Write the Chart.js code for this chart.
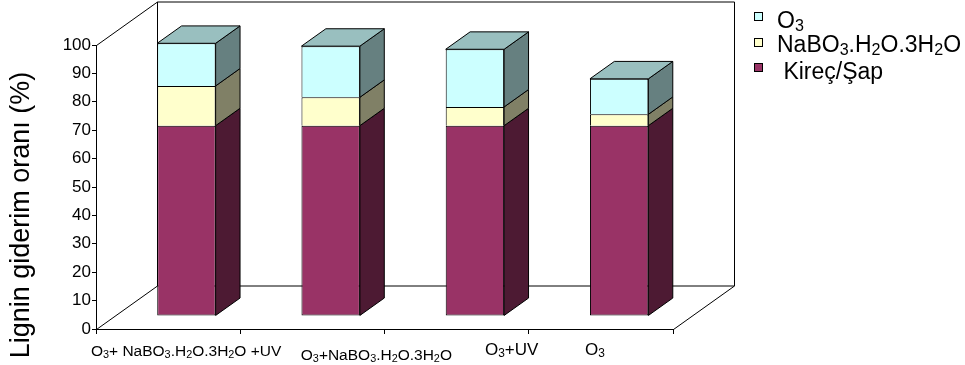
<!DOCTYPE html>
<html>
<head>
<meta charset="utf-8">
<script src="https://cdn.jsdelivr.net/npm/chart.js@4.4.1/dist/chart.umd.min.js"></script>
<style>
  html, body { margin: 0; padding: 0; background: #fff; }
  canvas { display: block; }
</style>
</head>
<body>
<canvas id="chart" width="965" height="365"></canvas>
<script>
// data
const categories = ['O₃+ NaBO₃.H₂O.3H₂O +UV', 'O₃+NaBO₃.H₂O.3H₂O', 'O₃+UV', 'O₃']
const kirecSap = [67, 67, 67, 67]
const perborat = [14, 10, 6.6, 4]
const ozon = [15, 18, 20.3, 12.5]
const seriesNames = ['Kireç/Şap', 'NaBO₃.H₂O.3H₂O', 'O₃']
const yMin = 0
const yMax = 100
const yStep = 10
const yTitle = 'Lignin giderim oranı (%)'

const FONT = '"Liberation Sans", Arial, sans-serif'

// oblique depth of the box, and where the columns sit inside it
const wall = {x: 61, y: -43.5}
const barFront = 0.3
const barDepth = 0.4

// small nudges for the category labels (x shift, baseline, font size)
const labelLayout = [
    {dx: 18, y: 356, size: 15.5},
    {dx: 64, y: 360, size: 15.5},
    {dx: 55, y: 355, size: 17},
    {dx: -6, y: 355, size: 17}
]

// text with subscript digits drawn as smaller, lowered digits
const SUB = '₀₁₂₃₄₅₆₇₈₉'
function pieces(text){
    const out = []
    for (const ch of text){
        const k = SUB.indexOf(ch)
        const sub = k >= 0
        const c = sub ? String(k) : ch
        if (out.length && out[out.length - 1].sub === sub) out[out.length - 1].t += c
        else out.push({t: c, sub})
    }
    return out
}
function richText(ctx, text, x, y, size, align){
    const parts = pieces(text)
    let w = 0
    parts.forEach(p => {
        ctx.font = (p.sub ? size * 0.7 : size) + 'px ' + FONT
        p.w = ctx.measureText(p.t).width
        w += p.w
    })
    let cx = align === 'center' ? x - w / 2 : x
    ctx.textAlign = 'left'
    parts.forEach(p => {
        ctx.font = (p.sub ? size * 0.7 : size) + 'px ' + FONT
        ctx.fillText(p.t, cx, p.sub ? y + size * 0.12 : y)
        cx += p.w
    })
}

function poly(ctx, pts, fill){
    ctx.beginPath()
    ctx.moveTo(pts[0][0], pts[0][1])
    for (let i = 1; i < pts.length; i++) ctx.lineTo(pts[i][0], pts[i][1])
    ctx.closePath()
    ctx.fillStyle = fill
    ctx.fill()
    ctx.stroke()
}

const box3d = {
    id: 'box3d',
    beforeDatasetsDraw(chart){
        const {ctx, chartArea: a} = chart
        const L = Math.round(a.left) + 0.5, R = Math.round(a.right) + 0.5
        const T = Math.round(a.top) + 0.5, B = Math.round(a.bottom) + 0.5
        ctx.save()
        ctx.strokeStyle = '#000'
        ctx.lineWidth = 1
        ctx.beginPath()
        // back wall
        ctx.rect(L + wall.x, T + wall.y, R - L, B - T)
        // side wall and floor edges
        ctx.moveTo(L, T); ctx.lineTo(L + wall.x, T + wall.y)
        ctx.moveTo(L, B); ctx.lineTo(L + wall.x, B + wall.y)
        ctx.moveTo(R, B); ctx.lineTo(R + wall.x, B + wall.y)
        ctx.stroke()
        ctx.restore()
        // push the columns back into the box
        ctx.save()
        ctx.translate(wall.x * barFront, wall.y * barFront)
    },
    afterDatasetsDraw(chart){
        const ctx = chart.ctx
        const ex = wall.x * barDepth, ey = wall.y * barDepth
        const n = chart.data.datasets.length
        ctx.strokeStyle = '#000'
        ctx.lineWidth = 1
        chart.data.datasets.forEach((ds, i) => {
            chart.getDatasetMeta(i).data.forEach(bar => {
                const {x, y, base, width} = bar.getProps(['x', 'y', 'base', 'width'], true)
                const l = x - width / 2, r = x + width / 2
                poly(ctx, [[r, y], [r + ex, y + ey], [r + ex, base + ey], [r, base]], ds.sideColor)
                if (i === n - 1){
                    poly(ctx, [[l, y], [l + ex, y + ey], [r + ex, y + ey], [r, y]], ds.topColor)
                }
            })
        })
        ctx.restore()
    },
    afterDraw(chart){
        const {ctx, scales} = chart
        ctx.save()
        ctx.fillStyle = '#000'
        ctx.textBaseline = 'alphabetic'
        // category labels
        chart.data.labels.forEach((lab, i) => {
            const p = labelLayout[i]
            richText(ctx, lab, scales.x.getPixelForValue(i) + p.dx, p.y, p.size, 'center')
        })
        // value axis title
        ctx.save()
        ctx.translate(22, 215)
        ctx.rotate(-Math.PI / 2)
        ctx.font = '27px ' + FONT
        ctx.textAlign = 'center'
        ctx.textBaseline = 'middle'
        ctx.fillText(yTitle, 0, 0)
        ctx.restore()
        // legend, top series first
        ctx.strokeStyle = '#000'
        ctx.lineWidth = 1
        const rows = chart.data.datasets.slice().reverse()
        const boxTop = [12, 38, 63]
        const baseLine = [28, 52, 79]
        rows.forEach((ds, k) => {
            ctx.fillStyle = ds.backgroundColor
            ctx.fillRect(754, boxTop[k], 8, 8)
            ctx.strokeRect(754.5, boxTop[k] + 0.5, 8, 8)
            ctx.fillStyle = '#000'
            richText(ctx, ds.label, 777, baseLine[k], 23, 'left')
        })
        ctx.restore()
    }
}

// stacked segments share one edge line, so the upper ones skip their bottom border
const edge = {top: 1, left: 1, right: 1, bottom: 0}

const ctx = document.getElementById('chart').getContext('2d')
const myChart = new Chart(ctx, {
    type: 'bar',
    data: {
        labels: categories,
        datasets: [{
            label: ' ' + seriesNames[0],
            data: kirecSap,
            backgroundColor: '#993366',
            sideColor: '#4d1a33',
            topColor: '#732650',
            borderWidth: 1
        }, {
            label: seriesNames[1],
            data: perborat,
            backgroundColor: '#ffffcc',
            sideColor: '#808066',
            topColor: '#bfbf99',
            borderWidth: edge
        }, {
            label: seriesNames[2],
            data: ozon,
            backgroundColor: '#ccffff',
            sideColor: '#668080',
            topColor: '#99bfbf',
            borderWidth: edge
        }].map(ds => Object.assign(ds, {
            borderColor: '#000',
            borderSkipped: false,
            categoryPercentage: 1,
            barPercentage: 0.405,
            clip: false
        }))
    },
    options: {
        responsive: false,
        animation: false,
        layout: {padding: {left: 0, top: 45, right: 292, bottom: 0}},
        plugins: {
            legend: {display: false},
            tooltip: {enabled: false}
        },
        scales: {
            x: {
                stacked: true,
                ticks: {display: false},
                grid: {drawOnChartArea: false, tickLength: 5, color: '#000', offset: true},
                border: {color: '#000'},
                afterFit(s){ s.height = 36 }
            },
            y: {
                stacked: true,
                min: yMin,
                max: yMax,
                ticks: {
                    stepSize: yStep,
                    color: '#000',
                    padding: 1,
                    font: {family: FONT, size: 17}
                },
                grid: {drawOnChartArea: false, tickLength: 4, color: '#000'},
                border: {color: '#000'},
                afterFit(s){ s.width = 96 }
            }
        }
    },
    plugins: [box3d]
})
</script>
</body>
</html>
